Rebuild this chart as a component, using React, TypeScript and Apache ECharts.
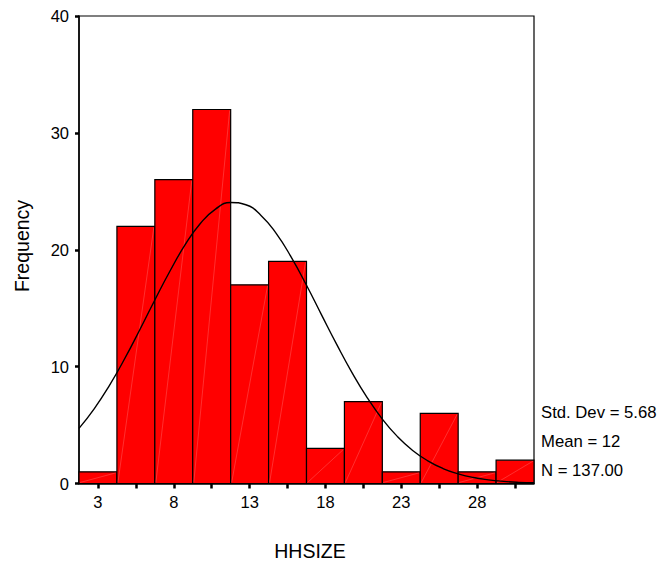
import React, { useEffect, useRef } from "react";
import * as echarts from "echarts";

// Histogram bins (centres) and frequencies
const binCenters = [3, 5.5, 8, 10.5, 13, 15.5, 18, 20.5, 23, 25.5, 28, 30.5];
const frequencies = [1, 22, 26, 32, 17, 19, 3, 7, 1, 6, 1, 2];
const binWidth = 2.5;

// Tick labels
const xLabelValues = [3, 8, 13, 18, 23, 28];
const yTicks = [0, 10, 20, 30, 40];

// Fitted normal curve
const curveX = [1.75, 2.75, 3.75, 4.75, 5.75, 6.75, 7.75, 8.75, 9.75, 10.75, 11.75, 12.75, 13.75, 14.75, 15.75, 16.75, 17.75, 18.75, 19.75, 20.75, 21.75, 22.75, 23.75, 24.75, 25.75, 26.75, 27.75, 28.75, 29.75, 30.75, 31.75];
const curveY = [4.72, 6.39, 8.38, 10.65, 13.13, 15.7, 18.18, 20.43, 22.24, 23.48, 24.04, 23.85, 22.94, 21.4, 19.35, 16.96, 14.41, 11.88, 9.49, 7.35, 5.51, 4.01, 2.83, 1.94, 1.28, 0.83, 0.51, 0.31, 0.18, 0.1, 0.06];

const statLines = ["Std. Dev = 5.68", "Mean = 12", "N = 137.00"];
const xName = "HHSIZE";
const yName = "Frequency";

const FONT = "'Liberation Sans', Arial, sans-serif";

export default function App() {
  const ref = useRef<HTMLDivElement>(null);
  useEffect(() => {
    if (!ref.current) return;
    const chart = echarts.init(ref.current, null, { renderer: "svg" });
    const barData = binCenters.map((c, i) => [c - binWidth / 2, c + binWidth / 2, frequencies[i]]);
    const minX = binCenters[0] - binWidth / 2;
    const maxX = binCenters[binCenters.length - 1] + binWidth / 2;
    chart.setOption({
      animation: false,
      backgroundColor: "#fff",
      grid: {
        left: 79,
        top: 16,
        right: 125,
        bottom: 82.5,
        show: true,
        borderColor: "#000",
        borderWidth: 1.2,
        backgroundColor: "transparent",
      },
      xAxis: {
        type: "value",
        min: minX,
        max: maxX,
        axisLine: { show: true, onZero: false, lineStyle: { color: "#000", width: 1.5 } },
        axisTick: {
          show: true,
          customValues: binCenters,
          length: 5,
          lineStyle: { color: "#000", width: 2.5 },
        },
        axisLabel: {
          customValues: xLabelValues,
          color: "#000",
          fontSize: 16.5,
          fontFamily: FONT,
          margin: 10,
        },
        splitLine: { show: false },
      },
      yAxis: {
        type: "value",
        min: 0,
        max: 40,
        interval: 10,
        axisLine: { show: true, lineStyle: { color: "#000", width: 1.5 } },
        axisTick: {
          show: true,
          customValues: yTicks,
          length: 4,
          lineStyle: { color: "#000", width: 2.5 },
        },
        axisLabel: {
          color: "#000",
          fontSize: 16.5,
          fontFamily: FONT,
          margin: 10,
        },
        splitLine: { show: false },
      },
      series: [
        {
          type: "custom",
          data: barData,
          z: 2,
          renderItem: (params: any, api: any) => {
            const x0 = api.value(0);
            const x1 = api.value(1);
            const y = api.value(2);
            const p0 = api.coord([x0, y]);
            const p1 = api.coord([x1, 0]);
            return {
              type: "group",
              children: [
                {
                  type: "rect",
                  shape: { x: p0[0], y: p0[1], width: p1[0] - p0[0], height: p1[1] - p0[1] },
                  style: { fill: "#ff0000", stroke: "#000", lineWidth: 1.2 },
                },
                {
                  type: "line",
                  shape: { x1: p0[0] + 1, y1: p1[1] - 1, x2: p1[0] - 1, y2: p0[1] + 1 },
                  style: { stroke: "rgba(255,170,170,0.55)", lineWidth: 0.5 },
                },
              ],
            };
          },
        },
        {
          type: "line",
          data: curveX.map((x, i) => [x, curveY[i]]),
          smooth: true,
          symbol: "none",
          z: 3,
          lineStyle: { color: "#000", width: 1.4 },
        },
      ],
      graphic: [
        {
          type: "text",
          x: 22,
          y: 246,
          rotation: Math.PI / 2,
          style: {
            text: yName,
            fontSize: 19.5,
            fontFamily: FONT,
            fill: "#000",
            align: "center",
            verticalAlign: "middle",
          },
        },
        {
          type: "text",
          x: 310,
          y: 551,
          style: {
            text: xName,
            fontSize: 19.5,
            fontFamily: FONT,
            fill: "#000",
            align: "center",
            verticalAlign: "middle",
          },
        },
        ...statLines.map((t, i) => ({
          type: "text",
          x: 541,
          y: [412.5, 441, 470][i],
          style: {
            text: t,
            fontSize: 16.7,
            fontFamily: FONT,
            fill: "#000",
            align: "left",
            verticalAlign: "middle",
          },
        })),
      ],
    });
    return () => chart.dispose();
  }, []);
  return (
    <div
      ref={ref}
      style={{ position: "absolute", left: 0, top: 0, width: 659, height: 566 }}
    />
  );
}
